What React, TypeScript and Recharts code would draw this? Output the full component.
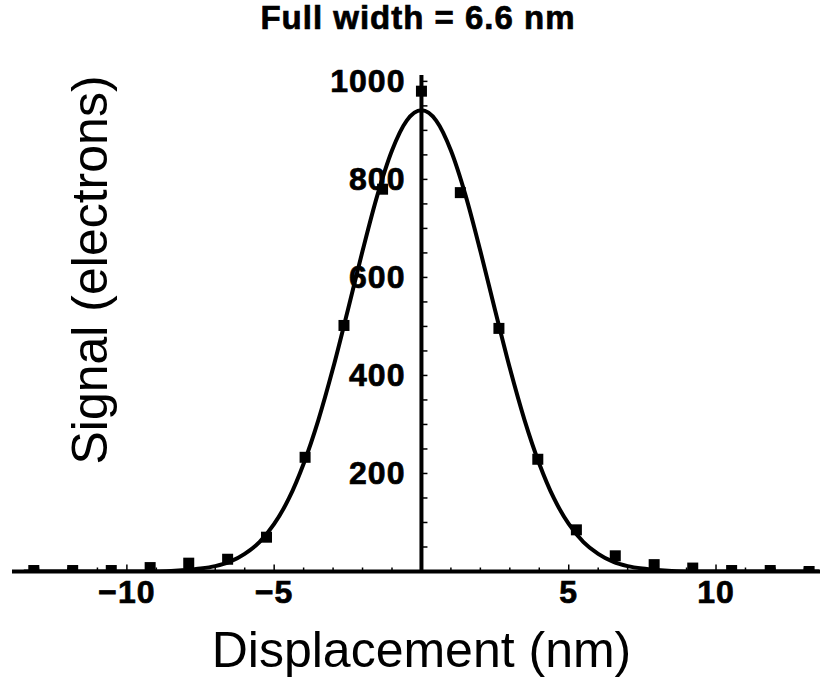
import React from "react";
import {
  ComposedChart,
  Line,
  Scatter,
  XAxis,
  YAxis,
  ReferenceLine,
  ReferenceDot,
} from "recharts";

// measured points (nm, electrons)
const POINT_X = [
  -13.16, -11.84, -10.53, -9.21, -7.9, -6.58, -5.26, -3.95, -2.63, -1.32, 0,
  1.32, 2.63, 3.95, 5.26, 6.58, 7.9, 9.21, 10.53, 11.84, 13.16,
];
const POINT_Y = [
  2, 2, 2, 8, 17, 25, 70, 233, 502, 780, 980,
  773, 496, 229, 85, 32, 14, 7, 2, 2, 0,
];

// fitted curve
const CURVE_X = [
  -13.5, -9, -8.5, -8, -7.5, -7, -6.5, -6, -5.5, -5, -4.5, -4, -3.5, -3, -2.5,
  -2, -1.5, -1, -0.5, 0, 0.5, 1, 1.5, 2, 2.5, 3, 3.5, 4, 4.5, 5, 5.5, 6, 6.5,
  7, 7.5, 8, 8.5, 9, 13.5,
];
const CURVE_Y = [
  0, 0, 1, 3, 6, 11, 20, 36, 60, 97, 149, 220, 309, 415, 533,
  654, 767, 859, 920, 941, 920, 859, 767, 654, 533, 415, 309, 220, 149, 97, 60, 36, 20,
  11, 6, 3, 1, 0, 0,
];

const X_TICKS = [
  -13, -12, -11, -10, -9, -8, -7, -6, -5, -4, -3, -2, -1, 0,
  1, 2, 3, 4, 5, 6, 7, 8, 9, 10, 11, 12, 13,
];
const Y_TICKS = [
  50, 100, 150, 200, 250, 300, 350, 400, 450, 500,
  550, 600, 650, 700, 750, 800, 850, 900, 950, 1000,
];

const points = POINT_X.map((x, i) => ({ x, y: POINT_Y[i] }));
const curve = CURVE_X.map((x, i) => ({ x, y: CURVE_Y[i] }));

const FONT = "'Liberation Sans', Arial, Helvetica, sans-serif";

// bold Mathematica-ish labels, a touch heavier than plain bold
const boldText = {
  fontFamily: FONT,
  fontWeight: "bold" as const,
  fontSize: 32,
  letterSpacing: 1,
  fill: "#000",
  stroke: "#000",
  strokeWidth: 0.7,
};

function fmt(v: number) {
  return v < 0 ? `\u2212${Math.abs(v)}` : String(v);
}

function XTick({ x, y, payload }: any) {
  const v = payload.value;
  if (v === 0) return null;
  const major = v % 5 === 0;
  return (
    <g>
      <line x1={x} x2={x} y1={y} y2={y - (major ? 7 : 4)} stroke="#000" strokeWidth={1.5} />
      {major && (
        <text x={x} y={y + 31} textAnchor="middle" {...boldText}>
          {fmt(v)}
        </text>
      )}
    </g>
  );
}

function SquareDot({ cx, cy }: any) {
  if (cx == null || cy == null) return null;
  return <rect x={cx - 5.5} y={cy - 5.5} width={11} height={11} fill="#000" />;
}

function yTickShape(v: number) {
  return ({ cx, cy }: any) => (
    <g>
      <line x1={cx} x2={cx + 6} y1={cy} y2={cy} stroke="#000" strokeWidth={1.5} />
      {v % 200 === 0 && (
        <text x={cx - 16} y={cy + 11} textAnchor="end" {...boldText}>
          {v}
        </text>
      )}
    </g>
  );
}

export default function App() {
  return (
    <div style={{ position: "absolute", left: 0, top: 0, width: 821, height: 688, background: "#fff" }}>
      <ComposedChart
        width={821}
        height={688}
        margin={{ top: 75, right: 1, bottom: 76.5, left: 12 }}
      >
        <XAxis
          type="number"
          dataKey="x"
          domain={[-13.9, 13.53]}
          ticks={X_TICKS}
          interval={0}
          height={40}
          tickSize={0}
          tickMargin={0}
          tickLine={false}
          axisLine={{ stroke: "#000", strokeWidth: 4 }}
          tick={<XTick />}
          allowDataOverflow
        />
        <YAxis type="number" dataKey="y" domain={[0, 1013]} hide allowDataOverflow />
        <ReferenceLine x={0} stroke="#000" strokeWidth={4} />
        {Y_TICKS.map((v) => (
          <ReferenceDot key={v} x={0} y={v} r={0} shape={yTickShape(v)} />
        ))}
        <Line
          data={curve}
          dataKey="y"
          type="monotone"
          stroke="#000"
          strokeWidth={4}
          dot={false}
          isAnimationActive={false}
        />
        <Scatter data={points} dataKey="y" shape={<SquareDot />} isAnimationActive={false} />
      </ComposedChart>
      <svg
        width={821}
        height={688}
        style={{ position: "absolute", left: 0, top: 0, pointerEvents: "none" }}
      >
        <text x={418} y={29} textAnchor="middle" {...boldText} fontSize={33}>
          Full width = 6.6 nm
        </text>
        <text x={421.5} y={667} textAnchor="middle" fontFamily={FONT} fontSize={50}>
          Displacement (nm)
        </text>
        <text
          transform="translate(107,270) rotate(-90)"
          textAnchor="middle"
          fontFamily={FONT}
          fontSize={50}
        >
          Signal (electrons)
        </text>
      </svg>
    </div>
  );
}
